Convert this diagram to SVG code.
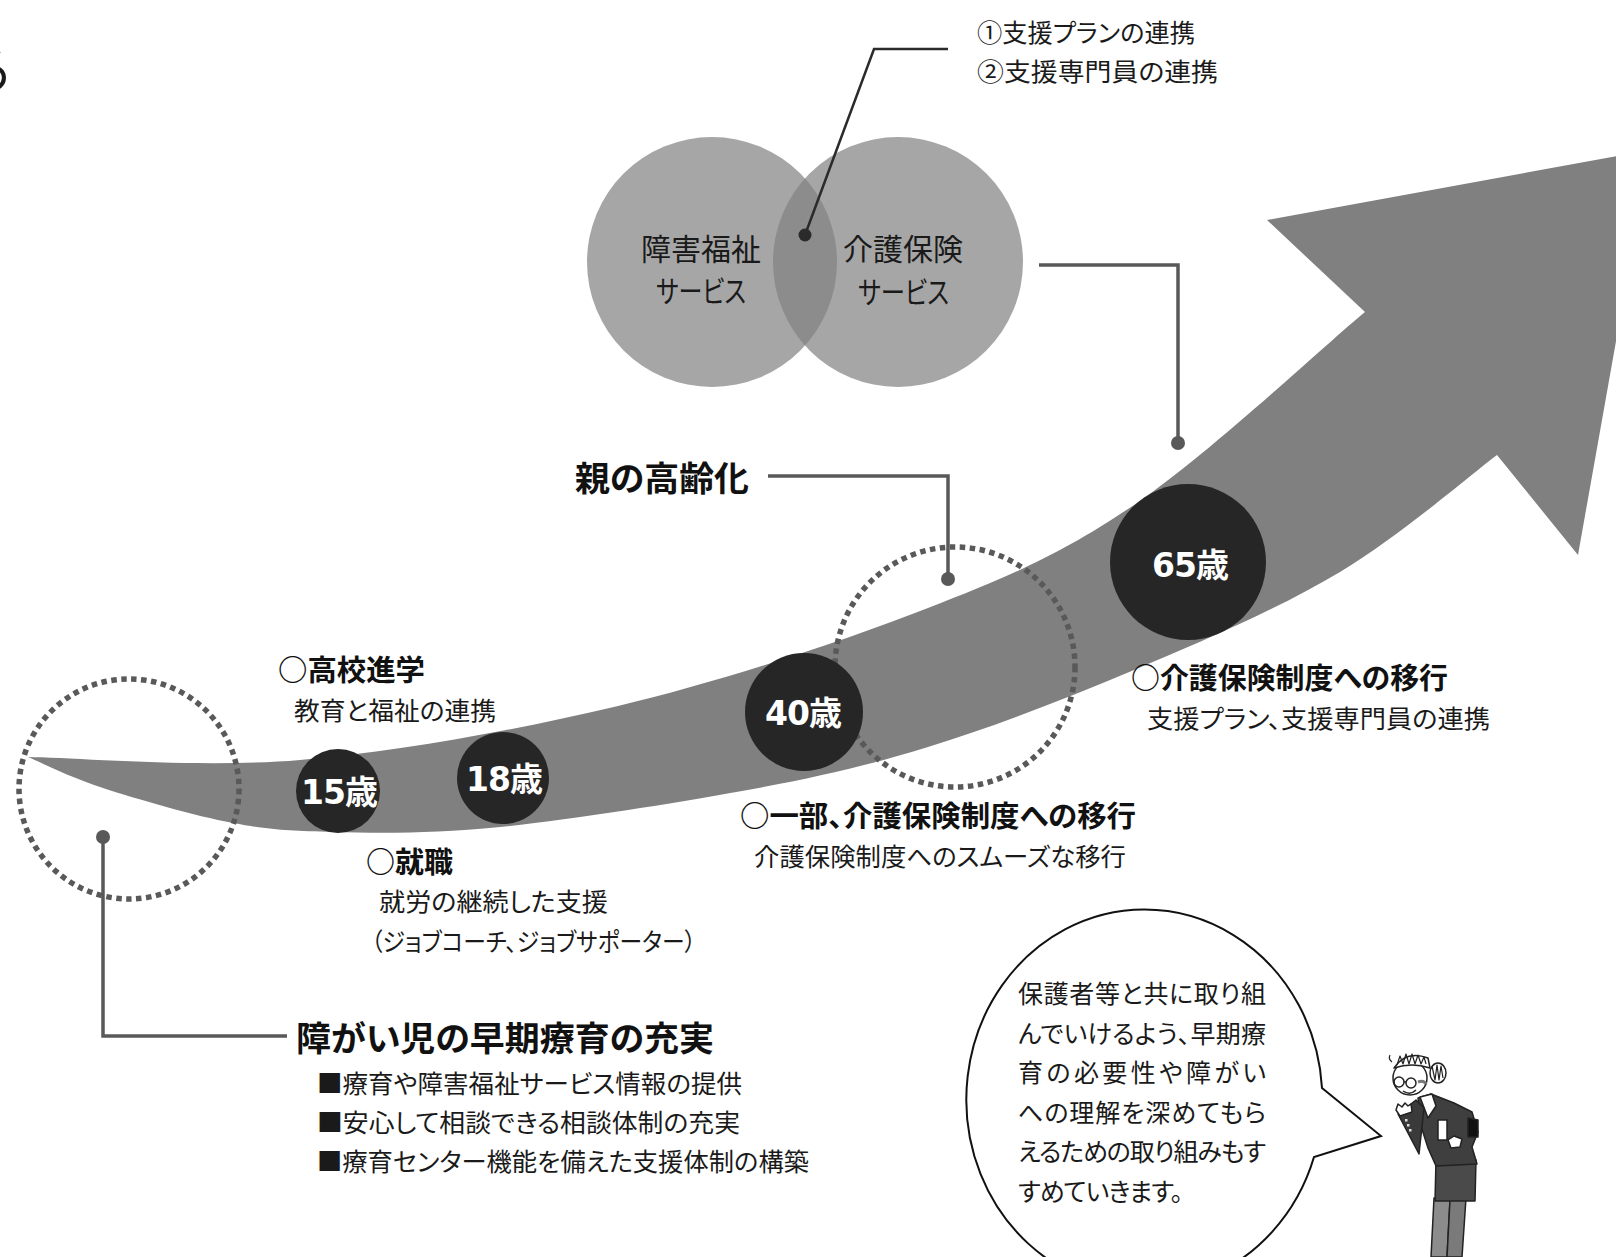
<svg xmlns="http://www.w3.org/2000/svg" width="1616" height="1257" viewBox="0 0 1616 1257">
<defs>
<style>
text{font-family:"Noto Sans CJK JP","Noto Sans",sans-serif;fill:#1a1a1a;dominant-baseline:central;font-feature-settings:"palt";}
.b{font-weight:bold;fill:#111}
.age{font-family:"DejaVu Sans","Noto Sans CJK JP",sans-serif;font-weight:bold;fill:#fff;font-size:33px;text-anchor:middle;letter-spacing:-1px}
.lead{fill:none;stroke:#595959;stroke-width:3.5}
.dot{fill:#595959}
.ring{fill:none;stroke:#595959;stroke-width:5.5;stroke-dasharray:5.5 4.5}
.agec{fill:#262626}
.venn{fill:#a6a6a6}
</style>
<clipPath id="leftVenn"><circle cx="712" cy="262" r="125"/></clipPath>
</defs>
<rect width="1616" height="1257" fill="#fff"/>

<!-- edge of a heading that runs off the page -->
<text x="-36" y="66" font-size="52">る</text>

<!-- rising life-stage arrow -->
<path id="lifeArrow" fill="#808080" d="M28,757 C73,757.5 202,768.5 300,760 C398,751.5 513,731 618,706 C723,681 842,641.5 928,608 C1014,574.5 1061,554 1134,505 C1207,456 1326,344 1365,312 L1267,220 L1650,150 L1578,555 L1497,455 C1471,474.5 1400,536 1340,572 C1280,608 1203,641 1134,670 C1065,699 993,727 928,747 C863,767 813,778 742,791 C671,804 568,820 500,827 C432,834 377,833 333,832 C288,831 271,830 233,823 C195,816 137,799 103,788 C69,777 40,762 28,757 Z"/>

<!-- service overlap -->
<g id="venn">
  <circle class="venn" cx="712" cy="262" r="125"/>
  <circle class="venn" cx="898" cy="262" r="125"/>
  <circle cx="898" cy="262" r="125" fill="#8c8c8c" clip-path="url(#leftVenn)"/>
  <text x="641" y="247" font-size="30" textLength="120" lengthAdjust="spacingAndGlyphs">障害福祉</text>
  <text x="656" y="289" font-size="30" textLength="90" lengthAdjust="spacingAndGlyphs">サービス</text>
  <text x="843" y="247" font-size="30" textLength="120" lengthAdjust="spacingAndGlyphs">介護保険</text>
  <text x="858" y="290" font-size="30" textLength="91" lengthAdjust="spacingAndGlyphs">サービス</text>
</g>

<!-- focus rings -->
<g id="rings">
  <circle class="ring" cx="129" cy="789" r="110"/>
  <circle class="ring" cx="955" cy="667" r="120"/>
</g>

<!-- connectors -->
<g id="connectors">
  <polyline points="948,49 874,49 805,235" fill="none" stroke="#2b2b2b" stroke-width="2.5"/>
  <circle cx="805" cy="235" r="6.5" fill="#2b2b2b"/>
  <polyline class="lead" points="1039,265 1178,265 1178,443"/>
  <circle class="dot" cx="1178" cy="443" r="7"/>
  <polyline class="lead" points="768,476 948,476 948,579"/>
  <circle class="dot" cx="948" cy="579" r="7"/>
  <polyline class="lead" points="103,837 103,1036 287,1036"/>
  <circle class="dot" cx="103" cy="837" r="7"/>
</g>

<!-- age markers -->
<g id="age15"><circle class="agec" cx="338" cy="791" r="42"/><text class="age" x="339" y="792">15歳</text></g>
<g id="age18"><circle class="agec" cx="503" cy="778" r="46"/><text class="age" x="504" y="779">18歳</text></g>
<g id="age40"><circle class="agec" cx="804" cy="712" r="59"/><text class="age" x="803" y="713">40歳</text></g>
<g id="age65"><circle class="agec" cx="1188" cy="562" r="78"/><text class="age" x="1190" y="565">65歳</text></g>

<!-- labels -->
<g id="link-note">
  <text x="977" y="31" font-size="25" textLength="218" lengthAdjust="spacingAndGlyphs">①支援プランの連携</text>
  <text x="977" y="70" font-size="25" textLength="241" lengthAdjust="spacingAndGlyphs">②支援専門員の連携</text>
</g>
<g id="parents">
  <text class="b" x="575" y="476" font-size="34" textLength="174" lengthAdjust="spacingAndGlyphs">親の高齢化</text>
</g>
<g id="highschool">
  <text class="b" x="278" y="668" font-size="29" textLength="147" lengthAdjust="spacingAndGlyphs">○高校進学</text>
  <text x="294" y="709" font-size="25" textLength="202" lengthAdjust="spacingAndGlyphs">教育と福祉の連携</text>
</g>
<g id="job">
  <text class="b" x="366" y="860" font-size="29" textLength="87" lengthAdjust="spacingAndGlyphs">○就職</text>
  <text x="379" y="900" font-size="25" textLength="229" lengthAdjust="spacingAndGlyphs">就労の継続した支援</text>
  <text x="371" y="940" font-size="25" textLength="325" lengthAdjust="spacingAndGlyphs">（ジョブコーチ、ジョブサポーター）</text>
</g>
<g id="early">
  <text class="b" x="296" y="1036" font-size="34" textLength="418" lengthAdjust="spacingAndGlyphs">障がい児の早期療育の充実</text>
  <text x="317" y="1082" font-size="25" textLength="425" lengthAdjust="spacingAndGlyphs">■療育や障害福祉サービス情報の提供</text>
  <text x="317" y="1121" font-size="25" textLength="423" lengthAdjust="spacingAndGlyphs">■安心して相談できる相談体制の充実</text>
  <text x="317" y="1160" font-size="25" textLength="492" lengthAdjust="spacingAndGlyphs">■療育センター機能を備えた支援体制の構築</text>
</g>
<g id="partial">
  <text class="b" x="740" y="814" font-size="29" textLength="396" lengthAdjust="spacingAndGlyphs">○一部、介護保険制度への移行</text>
  <text x="754" y="855" font-size="25" textLength="372" lengthAdjust="spacingAndGlyphs">介護保険制度へのスムーズな移行</text>
</g>
<g id="care">
  <text class="b" x="1131" y="676" font-size="29" textLength="317" lengthAdjust="spacingAndGlyphs">○介護保険制度への移行</text>
  <text x="1147" y="717" font-size="25" textLength="343" lengthAdjust="spacingAndGlyphs">支援プラン、支援専門員の連携</text>
</g>

<!-- speech bubble -->
<g id="bubble">
  <path d="M1322,1088 A178 190 0 1 0 1314,1157 L1381,1136 Z" fill="#fff" stroke="#111" stroke-width="2" stroke-linejoin="miter"/>
  <text x="1018" y="992" font-size="25" textLength="248" lengthAdjust="spacing">保護者等と共に取り組</text>
  <text x="1018" y="1031.5" font-size="25" textLength="248" lengthAdjust="spacing">んでいけるよう、早期療</text>
  <text x="1018" y="1071" font-size="25" textLength="248" lengthAdjust="spacing">育の必要性や障がい</text>
  <text x="1018" y="1110.5" font-size="25" textLength="248" lengthAdjust="spacing">への理解を深めてもら</text>
  <text x="1018" y="1150" font-size="25" textLength="248" lengthAdjust="spacing">えるための取り組みもす</text>
  <text x="1018" y="1189.5" font-size="25" textLength="165" lengthAdjust="spacing">すめていきます。</text>
</g>

<!-- bowing woman -->
<g id="woman" stroke="#222" stroke-width="1.5" stroke-linejoin="round">
  <path d="M1434,1198 L1431,1257 L1447,1257 L1450,1200 Z" fill="#8c8c8c"/>
  <path d="M1450,1200 L1447,1257 L1462,1257 L1466,1198 Z" fill="#7a7a7a"/>
  <path d="M1436,1160 L1476,1160 L1475,1201 L1435,1201 Z" fill="#4a4a4a"/>
  <path d="M1418,1098 L1431,1094 L1454,1103 L1472,1112 L1478,1132 L1472,1147 L1477,1164 L1436,1166 L1428,1148 L1421,1126 Z" fill="#3f3f3f"/>
  <path d="M1420,1097 L1432,1094 L1436,1106 L1428,1118 Z" fill="#fff"/>
  <rect x="1438" y="1120" width="9" height="20" fill="#fff"/>
  <path d="M1468,1118 L1478,1120 L1478,1137 L1468,1137 Z" fill="#111"/>
  <path d="M1448,1140 L1454,1136 L1462,1139 L1460,1147 L1451,1148 Z" fill="#fff"/>
  <path d="M1398,1114 L1419,1154 L1424,1108 L1416,1100 Z" fill="#3a3a3a"/>
  <g fill="#ddd" stroke="none"><rect x="1405" y="1119" width="2.5" height="2.5"/><rect x="1407" y="1124" width="2.5" height="2.5"/><rect x="1409" y="1129" width="2.5" height="2.5"/></g>
  <path d="M1396,1110 L1398,1104 L1402,1107 L1405,1103 L1408,1106 L1411,1104 L1412,1112 L1400,1116 Z" fill="#fff"/>
  <circle cx="1410" cy="1078" r="17" fill="#fff"/>
  <ellipse cx="1438" cy="1073" rx="8" ry="10" fill="#fff"/>
  <path d="M1432,1066 l3,14 l2,-15 l2,15 l2,-14 l2,12" fill="none" stroke-width="1.2"/>
  <path d="M1394,1068 Q1406,1050 1428,1058 L1430,1068 Q1412,1062 1394,1068 Z" fill="#fff"/>
  <path d="M1397,1065 l3,-9 l3,8 l3,-10 l3,10 l3,-10 l3,10 l3,-9 l3,9 l3,-7 l2,7" fill="none" stroke-width="1.2"/>
  <path d="M1392,1062 q-4,-3 -2,-7" fill="none" stroke-width="1.2"/>
  <circle cx="1399" cy="1082" r="5" fill="none"/>
  <circle cx="1411" cy="1083" r="5" fill="none"/>
  <path d="M1404,1082 L1406,1082" fill="none"/>
  <path d="M1403,1091 Q1410,1096 1416,1090" fill="none"/>
  <path d="M1418,1082 q6,-2 8,2" fill="none" stroke="#777" stroke-width="3"/>
</g>
</svg>
